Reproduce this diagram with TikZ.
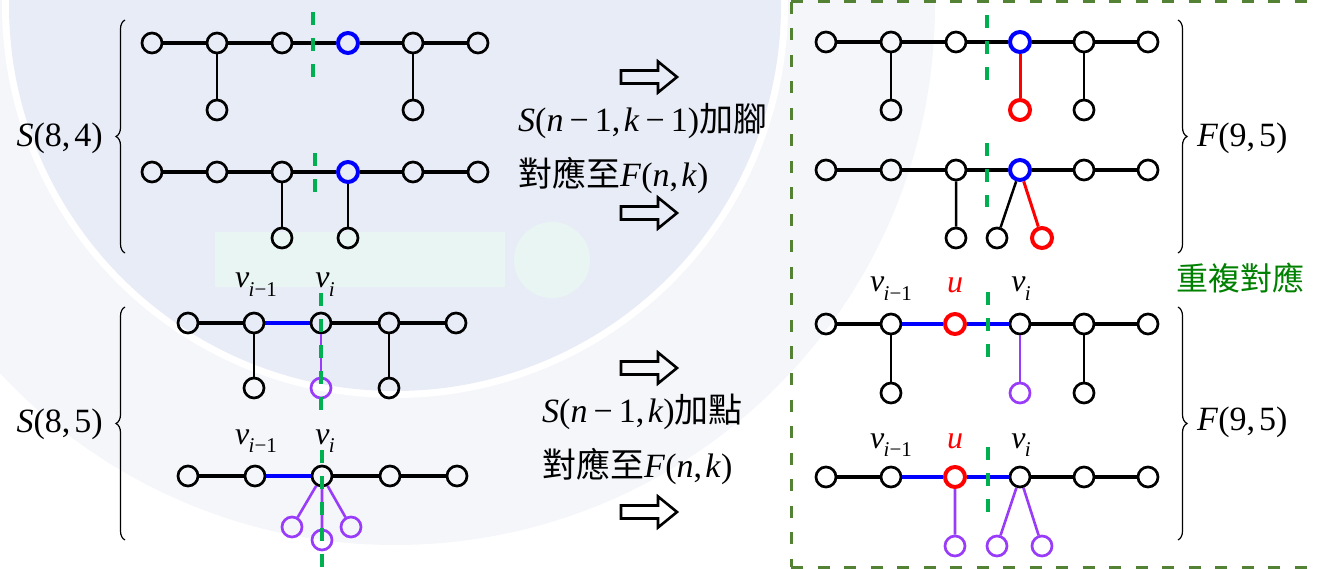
\documentclass[tikz,border=0pt]{standalone}
\usepackage{fontspec}
\setmainfont{Liberation Serif}
\newfontfamily\cjk{Noto Sans CJK TC}
\usetikzlibrary{decorations.pathreplacing}
\definecolor{wmblue}{RGB}{232,236,246}
\definecolor{wmring}{RGB}{244,246,250}
\definecolor{wmmint}{RGB}{233,245,243}
\definecolor{sepgreen}{RGB}{0,176,80}
\definecolor{boxgreen}{RGB}{84,130,53}
\definecolor{txtgreen}{RGB}{0,128,0}
\definecolor{pur}{RGB}{153,60,250}
\newcommand\mm{\kern0.18em−\kern0.18em}
\newcommand\vlab[1]{\textit{v}\kern-0.02em\raisebox{-0.27em}{\fontsize{21}{21}\selectfont #1}}
\begin{document}
\begin{tikzpicture}[x=1pt,y=-1pt,
  vtx/.style={circle,draw=black,line width=2.7pt,minimum size=20pt,inner sep=0pt},
  bvtx/.style={vtx,draw=blue,line width=4pt},
  rvtx/.style={vtx,draw=red,line width=4pt},
  pvtx/.style={vtx,draw=pur,line width=2.7pt},
  hedge/.style={line width=3.8pt,black},
  vedge/.style={line width=2.5pt,black},
  bedge/.style={line width=3.8pt,blue},
  redge/.style={line width=3pt,red},
  pedge/.style={line width=2.6pt,pur},
  sep/.style={line width=3.2pt,sepgreen,dash pattern=on 13pt off 13pt},
  gbox/.style={line width=3pt,boxgreen,dash pattern=on 12pt off 14.5pt},
  brc/.style={line width=1.2pt,decorate,decoration={brace,amplitude=9pt}},
  harrow/.style={line width=2.6pt,black,line join=miter},
  lab/.style={inner sep=0pt,font=\fontsize{34}{34}\selectfont},
  vl/.style={anchor=base,inner sep=0pt,font=\fontsize{32}{32}\selectfont},
]
\useasboundingbox (0,0) rectangle (1320,569);
% watermark
\begin{scope}
\clip (0,0) rectangle (1320,569);
\fill[wmring] (395,5) circle (540pt);
\fill[white] (395,5) circle (393pt);
\fill[wmblue] (395,5) circle (386pt);
\fill[wmmint] (215,232) rectangle (505,287);
\fill[wmmint] (552,260) circle (38pt);
\end{scope}

% ---------- S(8,4) row A
\node[vtx] (a1) at (152,43) {};
\node[vtx] (a2) at (217,43) {};
\node[vtx] (a3) at (282,43) {};
\node[bvtx] (a4) at (348,43) {};
\node[vtx] (a5) at (413,43) {};
\node[vtx] (a6) at (478,43) {};
\node[vtx] (a7) at (217,110) {};
\node[vtx] (a8) at (413,110) {};
\draw[hedge] (a1)--(a2) (a2)--(a3) (a3)--(a4) (a4)--(a5) (a5)--(a6);
\draw[vedge] (a2)--(a7) (a5)--(a8);
% row B
\node[vtx] (b1) at (152,172) {};
\node[vtx] (b2) at (217,172) {};
\node[vtx] (b3) at (282,172) {};
\node[bvtx] (b4) at (348,172) {};
\node[vtx] (b5) at (413,172) {};
\node[vtx] (b6) at (478,172) {};
\node[vtx] (b7) at (282,238) {};
\node[vtx] (b8) at (348,238) {};
\draw[hedge] (b1)--(b2) (b2)--(b3) (b3)--(b4) (b4)--(b5) (b5)--(b6);
\draw[vedge] (b3)--(b7) (b4)--(b8);

% ---------- S(8,5) row C
\node[vtx] (c1) at (188,323) {};
\node[vtx] (c2) at (254,323) {};
\node[vtx] (c3) at (321,323) {};
\node[vtx] (c4) at (389,323) {};
\node[vtx] (c5) at (456,323) {};
\node[vtx] (c6) at (254,388) {};
\node[pvtx] (c7) at (321,388) {};
\node[vtx] (c8) at (389,388) {};
\draw[hedge] (c1)--(c2) (c3)--(c4) (c4)--(c5);
\draw[bedge] (c2)--(c3);
\draw[vedge] (c2)--(c6) (c4)--(c8);
\draw[pedge] (c3)--(c7);
% row D
\node[vtx] (d1) at (188,476) {};
\node[vtx] (d2) at (255,476) {};
\node[vtx] (d3) at (322,476) {};
\node[vtx] (d4) at (390,476) {};
\node[vtx] (d5) at (457,476) {};
\node[pvtx] (d6) at (292,527) {};
\node[pvtx] (d7) at (322,540) {};
\node[pvtx] (d8) at (351,527) {};
\draw[hedge] (d1)--(d2) (d3)--(d4) (d4)--(d5);
\draw[bedge] (d2)--(d3);
\draw[pedge] (d3)--(d6) (d3)--(d7) (d3)--(d8);

% ---------- F(9,5) row E
\node[vtx] (e1) at (826,42) {};
\node[vtx] (e2) at (891,42) {};
\node[vtx] (e3) at (956,42) {};
\node[bvtx] (e4) at (1020,42) {};
\node[vtx] (e5) at (1084,42) {};
\node[vtx] (e6) at (1148,42) {};
\node[vtx] (e7) at (891,110) {};
\node[rvtx] (e8) at (1020,110) {};
\node[vtx] (e9) at (1084,110) {};
\draw[hedge] (e1)--(e2) (e2)--(e3) (e3)--(e4) (e4)--(e5) (e5)--(e6);
\draw[vedge] (e2)--(e7) (e5)--(e9);
\draw[redge] (e4)--(e8);
% row F
\node[vtx] (f1) at (826,170) {};
\node[vtx] (f2) at (891,170) {};
\node[vtx] (f3) at (956,170) {};
\node[bvtx] (f4) at (1020,170) {};
\node[vtx] (f5) at (1084,170) {};
\node[vtx] (f6) at (1148,170) {};
\node[vtx] (f7) at (956,238) {};
\node[vtx] (f8) at (997,238) {};
\node[rvtx] (f9) at (1042,238) {};
\draw[hedge] (f1)--(f2) (f2)--(f3) (f3)--(f4) (f4)--(f5) (f5)--(f6);
\draw[vedge] (f3)--(f7) (f4)--(f8);
\draw[redge] (f4)--(f9);

% ---------- F(9,5) row G
\node[vtx] (g1) at (826,324) {};
\node[vtx] (g2) at (891,324) {};
\node[rvtx] (g3) at (955,324) {};
\node[vtx] (g4) at (1020,324) {};
\node[vtx] (g5) at (1084,324) {};
\node[vtx] (g6) at (1148,324) {};
\node[vtx] (g7) at (891,393) {};
\node[pvtx] (g8) at (1020,393) {};
\node[vtx] (g9) at (1084,393) {};
\draw[hedge] (g1)--(g2) (g4)--(g5) (g5)--(g6);
\draw[bedge] (g2)--(g3) (g3)--(g4);
\draw[vedge] (g2)--(g7) (g5)--(g9);
\draw[pedge] (g4)--(g8);
% row H
\node[vtx] (h1) at (826,477) {};
\node[vtx] (h2) at (891,477) {};
\node[rvtx] (h3) at (955,477) {};
\node[vtx] (h4) at (1020,477) {};
\node[vtx] (h5) at (1084,477) {};
\node[vtx] (h6) at (1148,477) {};
\node[pvtx] (h7) at (955,546) {};
\node[pvtx] (h8) at (997,546) {};
\node[pvtx] (h9) at (1042,546) {};
\draw[hedge] (h1)--(h2) (h4)--(h5) (h5)--(h6);
\draw[bedge] (h2)--(h3) (h3)--(h4);
\draw[pedge] (h3)--(h7) (h4)--(h8) (h4)--(h9);

% ---------- green separators
\coordinate (sa1) at (313,12);  \coordinate (sa2) at (313,78);
\coordinate (sb1) at (315,153); \coordinate (sb2) at (315,205);
\coordinate (sc1) at (321,293); \coordinate (sc2) at (321,415);
\coordinate (sd1) at (322,450); \coordinate (sd2) at (322,569);
\coordinate (se1) at (987,15);  \coordinate (se2) at (987,85);
\coordinate (sf1) at (987,143); \coordinate (sf2) at (987,207);
\coordinate (sg1) at (988,292); \coordinate (sg2) at (988,360);
\coordinate (sh1) at (988,447); \coordinate (sh2) at (988,513);
\draw[sep] (sa1)--(sa2) (sb1)--(sb2) (sc1)--(sc2) (sd1)--(sd2)
           (se1)--(se2) (sf1)--(sf2) (sg1)--(sg2) (sh1)--(sh2);

% ---------- dashed box
\coordinate (bx1) at (1322,2);
\coordinate (bx2) at (791,2);
\coordinate (bx3) at (791,567);
\coordinate (bx4) at (1322,567);
\draw[gbox] (bx2)--(bx1) (bx2)--(bx3) (bx3)--(bx4);

% ---------- braces
\draw[brc] (125,253) -- (125,20);
\draw[brc] (125,540) -- (125,307);
\draw[brc] (1178,20) -- (1178,253);
\draw[brc] (1178,307) -- (1178,540);

% ---------- hollow arrows
\foreach \n/\y in {1/77,2/213,3/368,4/512}{
  \coordinate (ar\n) at (648,\y);
  \draw[harrow] (ar\n) ++(-27,-6.5) -- ++(37,0) -- ++(0,-9) -- ++(19,15.5)
     -- ++(-19,15.5) -- ++(0,-9) -- ++(-37,0) -- cycle;
}

% ---------- labels
\node[lab,anchor=base east] (s84) at (103,147) {\textit{S}(8,\kern0.12em4)};
\node[lab,anchor=base east] (s85) at (103,432) {\textit{S}(8,\kern0.12em5)};
\node[lab,anchor=base west] (f95a) at (1197,147) {\textit{F}(9,\kern0.12em5)};
\node[lab,anchor=base west] (f95b) at (1197,430) {\textit{F}(9,\kern0.12em5)};
\node[lab,anchor=base west] (t1) at (518,132) {\textit{S}(\textit{n}\mm1,\kern0.1em\textit{k}\mm1){\cjk 加腳}};
\node[lab,anchor=base west] (t2) at (518,187) {{\cjk 對應至}\textit{F}(\textit{n},\kern0.1em\textit{k})};
\node[lab,anchor=base west] (t3) at (542,422) {\textit{S}(\textit{n}\mm1,\kern0.1em\textit{k}){\cjk 加點}};
\node[lab,anchor=base west] (t4) at (542,477) {{\cjk 對應至}\textit{F}(\textit{n},\kern0.1em\textit{k})};
\node[inner sep=0pt,text=txtgreen,font=\cjk\fontsize{32}{32}\selectfont] (rep) at (1240,278) {重複對應};

\node[vl] (lc1) at (256,288) {\vlab{\textit{i}−1}};
\node[vl] (lc2) at (325,288) {\vlab{\textit{i}}};
\node[vl] (ld1) at (256,444) {\vlab{\textit{i}−1}};
\node[vl] (ld2) at (325,444) {\vlab{\textit{i}}};
\node[vl] (lg1) at (891,292) {\vlab{\textit{i}−1}};
\node[vl,text=red] (lg2) at (955,293) {\textit{u}};
\node[vl] (lg3) at (1021,292) {\vlab{\textit{i}}};
\node[vl] (lh1) at (891,448) {\vlab{\textit{i}−1}};
\node[vl,text=red] (lh2) at (955,448) {\textit{u}};
\node[vl] (lh3) at (1021,448) {\vlab{\textit{i}}};
\end{tikzpicture}
\end{document}
